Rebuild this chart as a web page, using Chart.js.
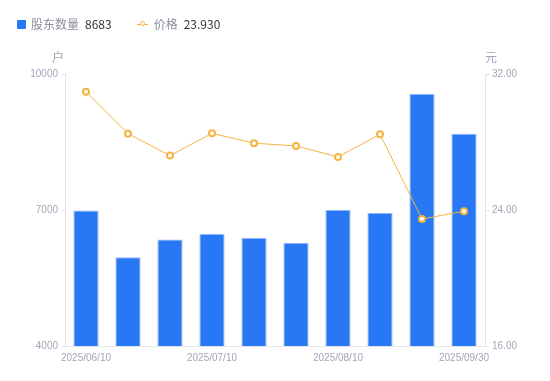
<!DOCTYPE html>
<html><head><meta charset="utf-8">
<script src="https://cdn.jsdelivr.net/npm/chart.js@4/dist/chart.umd.min.js"></script>
<style>
html,body{margin:0;padding:0;background:#fff;}
#wrap{position:relative;width:550px;height:381px;}
#legend{position:absolute;left:17px;top:16px;font-family:"Noto Sans CJK SC","Liberation Sans",sans-serif;font-size:12px;line-height:16px;display:flex;align-items:center;}
.item{display:flex;align-items:center;margin-right:25px;}
.sq{width:9px;height:9px;background:#2878F5;border-radius:1px;margin-right:5px;}
.ln{position:relative;width:11px;height:9px;margin-right:6px;}
.ln:before{content:"";position:absolute;left:0;top:4px;width:11px;height:1.5px;background:#F5B442;}
.ln:after{content:"";position:absolute;left:3px;top:1.5px;width:3px;height:3px;border:1.5px solid #F5B442;border-radius:50%;background:#fff;}
.nm{color:#8c8e9c;margin-right:6px;}
.vl{color:#333;}
</style>
</head><body>
<div id="wrap">
<canvas id="c" width="550" height="381"></canvas>
<div id="legend">
 <div class="item"><div class="sq"></div><span class="nm">股东数量</span><span class="vl">8683</span></div>
 <div class="item"><div class="ln"></div><span class="nm">价格</span><span class="vl">23.930</span></div>
</div>
</div>
<script>
const categories = ["2025/06/10","2025/06/20","2025/06/30","2025/07/10","2025/07/20","2025/07/31","2025/08/10","2025/08/20","2025/09/19","2025/09/30"];
const holders = [6990, 5956, 6352, 6473, 6385, 6275, 7000, 6934, 9560, 8683];
const prices = [30.96, 28.49, 27.20, 28.51, 27.93, 27.77, 27.12, 28.45, 23.47, 23.93];
const leftTicks = [4000, 7000, 10000];
const rightTicks = [16, 24, 32];
const leftUnit = "户";
const rightUnit = "元";

const tickColor = "#a3a5b8";
const axisColor = "#e3e4ea";

const unitPlugin = {
  id: 'units',
  afterDraw(chart) {
    const ctx = chart.ctx, a = chart.chartArea;
    ctx.save();
    ctx.font = '12px "Noto Sans CJK SC", sans-serif';
    ctx.fillStyle = tickColor;
    ctx.textBaseline = 'middle';
    ctx.textAlign = 'right';
    ctx.fillText(leftUnit, a.left - 1, 57);
    ctx.textAlign = 'left';
    ctx.fillText(rightUnit, a.right, 57);
    ctx.restore();
  }
};

new Chart(document.getElementById('c'), {
  data: {
    labels: categories,
    datasets: [
      {
        type: 'line', label: '价格', data: prices, yAxisID: 'y1',
        borderColor: '#F5B442', borderWidth: 1, backgroundColor: '#fff',
        pointRadius: 3, pointBorderWidth: 2, pointBackgroundColor: '#fff', pointBorderColor: '#F5B442',
        tension: 0, order: 0
      },
      {
        type: 'bar', label: '股东数量', data: holders, yAxisID: 'y',
        backgroundColor: '#2878F5', borderColor: '#8DB5F7', borderWidth: 1,
        categoryPercentage: 1, barPercentage: 0.6, order: 1
      }
    ]
  },
  options: {
    responsive: false, animation: false,
    layout: { padding: { top: 74, left: 0, right: 0, bottom: 0 } },
    plugins: { legend: { display: false }, tooltip: { enabled: false } },
    scales: {
      x: {
        grid: { display: false, drawTicks: false },
        border: { color: axisColor },
        ticks: {
          autoSkip: false, maxRotation: 0, color: tickColor, padding: 6,
          font: { size: 10, family: '"Liberation Sans", Arial, sans-serif' },
          callback: function(v, i) { return (i % 3 === 0) ? categories[i] : ''; }
        },
        afterFit(s) { s.height = 35; }
      },
      y: {
        position: 'left', min: 4000, max: 10000,
        afterBuildTicks(s) { s.ticks = leftTicks.map(v => ({ value: v })); },
        grid: { display: true, drawOnChartArea: false, color: axisColor, tickLength: 4 },
        border: { color: axisColor },
        ticks: { color: tickColor, padding: 3, font: { size: 10, family: '"Liberation Sans", Arial, sans-serif' },
          callback: v => String(v) },
        afterFit(s) { s.width = 65; }
      },
      y1: {
        position: 'right', min: 16, max: 32,
        afterBuildTicks(s) { s.ticks = rightTicks.map(v => ({ value: v })); },
        grid: { display: true, drawOnChartArea: false, color: axisColor, tickLength: 4 },
        border: { color: axisColor },
        ticks: { color: tickColor, padding: 3, font: { size: 10, family: '"Liberation Sans", Arial, sans-serif' },
          callback: v => Number(v).toFixed(2) },
        afterFit(s) { s.width = 65; }
      }
    }
  },
  plugins: [unitPlugin]
});
</script>
</body></html>
